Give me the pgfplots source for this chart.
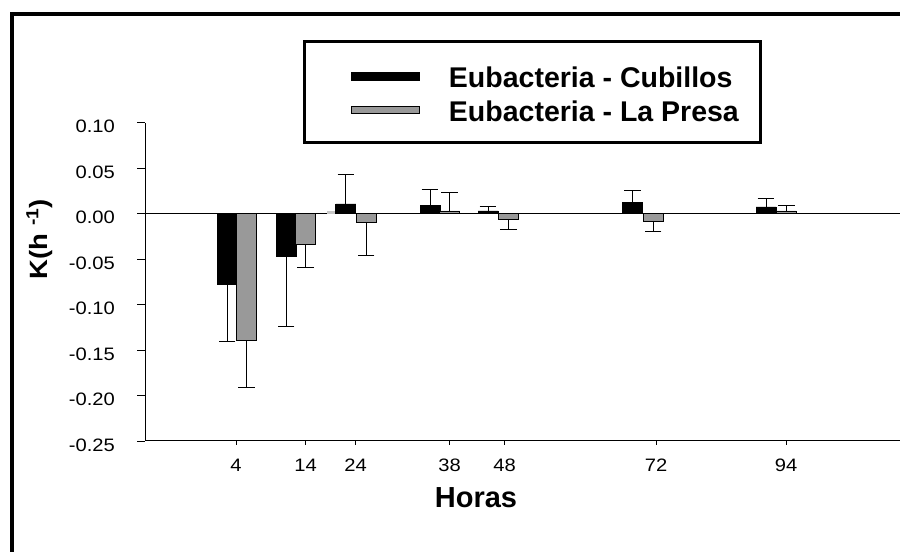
\documentclass[border=0pt]{standalone}
\usepackage{pgfplots}
\pgfplotsset{compat=1.18}
\usepackage{fontspec}
\setmainfont{Liberation Sans}
\newfontfamily\tickfont[FakeStretch=1.12]{Liberation Sans}
\newfontfamily\ylabfont[FakeStretch=1.1]{Liberation Sans Bold}
\definecolor{barGray}{RGB}{153,153,153}
\definecolor{stubGray}{RGB}{200,200,200}

\begin{document}
\begin{tikzpicture}[x=1bp,y=1bp]
\clip (0,0) rectangle (900,552);
\draw[line width=4bp] (11.5,-20) -- (11.5,538) -- (920,538);
\begin{axis}[
  at={(145bp,111bp)}, anchor=south west,
  scale only axis, width=755bp, height=318.3bp,
  xmin=145, xmax=900, ymin=-0.25, ymax=0.10,
  axis x line=bottom, axis y line=left,
  axis line style={line width=1bp, -, black},
  xtick={236,305.5,355.5,449.5,504.5,656,786},
  xticklabels={4,14,24,38,48,72,94},
  ytick={-0.25,-0.20,-0.15,-0.10,-0.05,0,0.05,0.10},
  yticklabels={-0.25,-0.20,-0.15,-0.10,-0.05,0.00,0.05,0.10},
  minor tick num=0,
  tick align=outside,
  major tick length=8bp,
  xtick style={line width=0.8bp, black, /pgfplots/major tick length=4bp},
  ytick style={line width=0.8bp, black},
  tick label style={font=\tickfont\fontsize{18bp}{18bp}\selectfont, inner sep=0pt},
  xticklabel style={anchor=north, yshift=-10bp},
  yticklabel style={anchor=east, xshift=-22bp, yshift=-4bp},
  clip=false,
  legend cell align=left,
  legend style={at={(0.2095,1.2605)}, anchor=north west, draw=black,
    line width=3bp, fill=white, inner xsep=21.2bp, inner ysep=20.5bp,
    row sep=13bp, column sep=28.7bp,
    font=\fontsize{28.5bp}{28.5bp}\selectfont\bfseries,
    nodes={inner sep=0pt, text height=21bp, text depth=0pt}},
]
% zero line
\addplot[black, line width=1bp, forget plot] coordinates {(145,0) (900,0)};
% small stub near 24 h
\addplot[ybar, bar width=9.3, bar shift=0pt, fill=stubGray, draw=none, forget plot]
  coordinates {(331.3,0.0025)};
% Eubacteria - Cubillos
\addplot[ybar, bar width=20, bar shift=0pt, fill=black, draw=black, line width=0.8bp,
  legend image code/.code={\path (-25.6bp,0bp) (0bp,15.2bp); \fill[black] (0bp,-3bp) rectangle (68bp,5bp);}]
  coordinates {(227,-0.0774) (286,-0.0467) (345.8,0.0106) (430,0.0092) (488,0.0030) (632.7,0.0125) (766,0.0073)};
\addlegendentry{Eubacteria - Cubillos}
% Eubacteria - La Presa
\addplot[ybar, bar width=20, bar shift=0pt, fill=barGray, draw=black, line width=0.8bp,
  legend image code/.code={\path (-25.6bp,0bp); \filldraw[fill=barGray, draw=black, line width=0.8bp] (0bp,-2.2bp) rectangle (68bp,4.5bp);}]
  coordinates {(246.3,-0.1396) (305.7,-0.0336) (366,-0.0094) (449.7,0.0030) (508.7,-0.0062) (653,-0.0084) (786.3,0.0030)};
\addlegendentry{Eubacteria - La Presa}
% error bars (downward)
\addplot[draw=none, mark=none, forget plot,
  error bars/.cd, y dir=minus, y explicit,
  error bar style={draw=black, line width=0.8bp},
  error mark options={draw=black, line width=0.8bp, mark size=8.3bp, rotate=90}]
  coordinates {
    (227,-0.0774) -= (0,0.0630)
    (286,-0.0467) -= (0,0.0768)
    (246.3,-0.1396) -= (0,0.0519)
    (305.7,-0.0336) -= (0,0.0252)
    (366,-0.0094) -= (0,0.0366)
    (508.7,-0.0062) -= (0,0.0113)
    (653,-0.0084) -= (0,0.0109)
  };
% error bars (upward)
\addplot[draw=none, mark=none, forget plot,
  error bars/.cd, y dir=plus, y explicit,
  error bar style={draw=black, line width=0.8bp},
  error mark options={draw=black, line width=0.8bp, mark size=8.3bp, rotate=90}]
  coordinates {
    (345.8,0.0106) += (0,0.0326)
    (430,0.0092) += (0,0.0175)
    (488,0.0030) += (0,0.0051)
    (632.7,0.0125) += (0,0.0131)
    (766,0.0073) += (0,0.0096)
    (449.7,0.0030) += (0,0.0200)
    (786.3,0.0030) += (0,0.0062)
  };
\end{axis}
\node[rotate=90, anchor=base, font=\ylabfont\fontsize{25bp}{25bp}\selectfont] at (47.3,313) {K(h \textsuperscript{-1})};
\node[anchor=base, font=\fontsize{29bp}{29bp}\selectfont\bfseries] at (476,44.7) {Horas};
\end{tikzpicture}
\end{document}
